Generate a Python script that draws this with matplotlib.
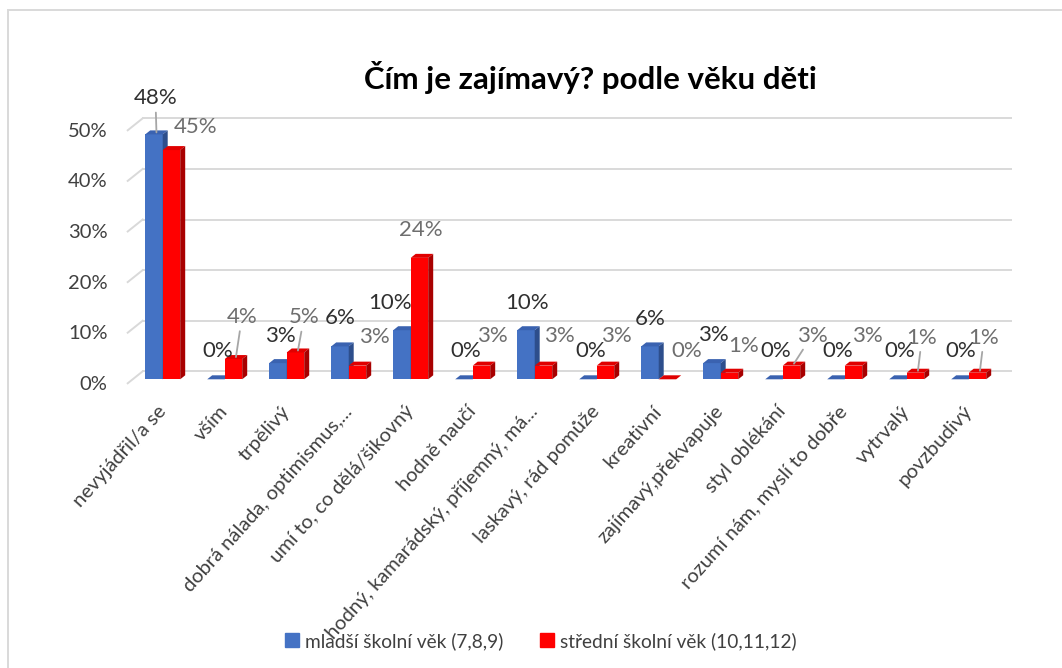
import matplotlib.pyplot as plt
from matplotlib.patches import Polygon, Rectangle
from matplotlib.lines import Line2D

# data (percent)
categories = ["nevyjádřil/a se", "vším", "trpělivý", "dobrá nálada, optimismus,...",
              "umí to, co dělá/šikovný", "hodně naučí", "hodný, kamarádský, příjemný, má...",
              "laskavý, rád pomůže", "kreativní", "zajímavý,překvapuje", "styl oblékání",
              "rozumí nám, myslí to dobře", "vytrvalý", "povzbudivý"]
younger = [48.4, 0, 3.2, 6.5, 9.7, 0, 9.7, 0, 6.5, 3.2, 0, 0, 0, 0]
middle = [45.3, 4.0, 5.3, 2.7, 24.0, 2.7, 2.7, 2.7, 0, 1.3, 2.7, 2.7, 1.3, 1.3]
series_names = ["mladší školní věk (7,8,9)", "střední školní věk (10,11,12)"]
y_ticks = [0, 10, 20, 30, 40, 50]
title = "Čím je zajímavý? podle věku děti"

plt.rcParams['font.family'] = ['Lato', 'DejaVu Sans']

W, H = 1062, 668
fig = plt.figure(figsize=(W / 100, H / 100), dpi=100)
ax_l, ax_t, ax_w, ax_h = 131.7, 126.3, 868, 253
ax = fig.add_axes([ax_l / W, 1 - (ax_t + ax_h) / H, ax_w / W, ax_h / H])
n = len(categories)
ax.set_xlim(-0.5, n - 0.5)
ax.set_ylim(0, 50)
for s in ax.spines.values():
    s.set_visible(False)

# pixel -> data scale
sx = n / ax_w
sy = 50 / ax_h

# back wall gridlines + perspective ticks
grid_c = '#d9d9d9'
bx, by = 11, 8
fx, fy = -4, -4
for v in y_ticks:
    ax.plot([-0.5 + bx * sx, n - 0.5 + bx * sx], [v + by * sy] * 2, color=grid_c,
            lw=1.4, clip_on=False, zorder=0)
    ax.plot([-0.5 + fx * sx, -0.5 + bx * sx], [v + fy * sy, v + by * sy], color=grid_c,
            lw=1.4, clip_on=False, zorder=0)
    ax.annotate(f"{v}%", xy=(0, v), xycoords=ax.get_yaxis_transform(), xytext=(-24, -5),
                textcoords='offset pixels', ha='right', va='center', fontsize=14.5,
                color='#404040')
ax.set_yticks([])

# pseudo-3D bars
w = 17.5 / 62
ddx, ddy = 5 * sx, 4 * sy
styles = [('#4472C4', '#3A62B0', '#2D4E8C'), ('#FF0000', '#E00000', '#A80000')]
for k, vals in enumerate([younger, middle]):
    front, top, side = styles[k]
    xs = [i - w + k * w for i in range(n)]
    ax.bar(xs, vals, width=w, align='edge', color=front, zorder=2 + k * 2)
    for x0, v in zip(xs, vals):
        ax.add_patch(Polygon([(x0, v), (x0 + w, v), (x0 + w + ddx, v + ddy), (x0 + ddx, v + ddy)],
                             closed=True, facecolor=top, edgecolor='none', zorder=2 + k * 2,
                             clip_on=False))
        ax.add_patch(Polygon([(x0 + w, 0), (x0 + w + ddx, ddy), (x0 + w + ddx, v + ddy), (x0 + w, v)],
                             closed=True, facecolor=side, edgecolor='none', zorder=2 + k * 2,
                             clip_on=False))

# data labels (offsets in pixels from the bar top)
blue_off = [(-1, 34), (-1, 26), (0, 25), (-2, 26), (-14, 25), (-1, 26), (-1, 25),
            (0, 26), (-2, 25), (-1, 26), (-1, 26), (-1, 26), (-1, 26), (-2, 26)]
red_off = [(22, 21), (6, 40), (6, 33), (14, 27), (-1, 26), (8, 28), (13, 28),
           (8, 28), (17, 26), (12, 25), (18, 28), (11, 28), (4, 33), (4, 33)]
blue_lead = {0}
red_lead = {1, 2, 10, 12, 13}
lead = dict(arrowstyle='-', color='#a6a6a6', lw=1.3, shrinkA=1, shrinkB=0)
for k, (vals, offs, leads, col) in enumerate([(younger, blue_off, blue_lead, '#303030'),
                                              (middle, red_off, red_lead, '#6e6e6e')]):
    for i, v in enumerate(vals):
        cx = i - w / 2 + k * w + ddx / 2
        ax.annotate(f"{v:.0f}%", xy=(cx, v + ddy / 2), xytext=(offs[i][0], offs[i][1]),
                    textcoords='offset pixels', ha='center', va='center', fontsize=16,
                    color=col, zorder=10, annotation_clip=False,
                    arrowprops=lead if i in leads else None)

# category labels
ax.set_xticks(range(n))
ax.set_xticklabels(categories, rotation=48, ha='right', va='center',
                   rotation_mode='anchor', fontsize=14.5, color='#404040')
ax.tick_params(axis='x', length=0, pad=21)

fig.text(590 / W, 1 - 77 / H, title, ha='center', va='center', fontsize=22.5,
         fontweight='bold', color='black')

handles = [Line2D([], [], marker='s', linestyle='', markersize=9.5, color=styles[0][0]),
           Line2D([], [], marker='s', linestyle='', markersize=9.5, color=styles[1][0])]
fig.legend(handles, series_names, loc='center', bbox_to_anchor=(540 / W, 1 - 641 / H),
           ncol=2, frameon=False, fontsize=13.8, handletextpad=0.25, handlelength=0.9,
           columnspacing=1.8, labelcolor='#404040')

fig.add_artist(Rectangle((8 / W, -0.1), 1.2, 1.1 - 10 / H, transform=fig.transFigure,
                         fill=False, edgecolor='#d9d9d9', lw=1.4))

fig.savefig('out.png', dpi=100)
